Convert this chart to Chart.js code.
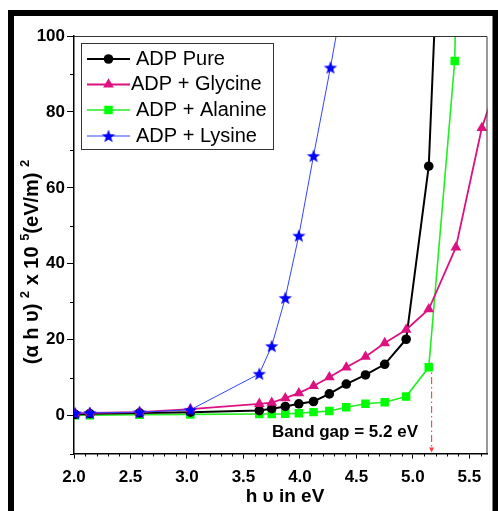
<!DOCTYPE html>
<html>
<head>
<meta charset="utf-8">
<script src="https://cdn.jsdelivr.net/npm/chart.js@4.4.1/dist/chart.umd.min.js"></script>
<style>
html, body { margin: 0; padding: 0; background: #fff; }
</style>
</head>
<body>
<canvas id="myChart" width="498" height="511"></canvas>
<script>
// 1 DATA
const seriesNames = ['ADP Pure', 'ADP + Glycine', 'ADP + Alanine', 'ADP + Lysine'];

const pureX = [2.01, 2.14, 2.58, 3.03, 3.64, 3.75, 3.87, 3.99, 4.12, 4.26, 4.41, 4.58, 4.75, 4.94, 5.14, 5.23];
const pureY = [0.3, 0.5, 0.7, 0.9, 1.3, 1.8, 2.4, 3.1, 3.7, 5.7, 8.3, 10.7, 13.5, 20.1, 65.7, 130];

const glyX = [2.01, 2.14, 2.58, 3.03, 3.64, 3.75, 3.87, 3.99, 4.12, 4.26, 4.41, 4.58, 4.75, 4.94, 5.14, 5.38, 5.61, 5.75];
const glyY = [0.5, 0.7, 0.9, 1.7, 3.1, 3.4, 4.6, 5.9, 7.8, 10.1, 12.7, 15.5, 19.1, 22.6, 28.0, 44.3, 75.8, 88];

const alaX = [2.01, 2.14, 2.58, 3.03, 3.64, 3.75, 3.87, 3.99, 4.12, 4.26, 4.41, 4.58, 4.75, 4.94, 5.14, 5.37, 5.39];
const alaY = [0.1, 0.1, 0.2, 0.3, 0.4, 0.4, 0.45, 0.6, 0.9, 1.2, 2.2, 3.1, 3.5, 5.0, 12.7, 93.4, 125];

const lysX = [2.01, 2.14, 2.58, 3.03, 3.64, 3.75, 3.87, 3.99, 4.12, 4.27, 4.41];
const lysY = [0.6, 0.7, 0.9, 1.5, 11, 18.3, 31, 47.4, 68.4, 91.7, 115];

const xTicks = [2.0, 2.5, 3.0, 3.5, 4.0, 4.5, 5.0, 5.5];
const yTicks = [0, 20, 40, 60, 80, 100];

const bandGapX = 5.165;
const bandGapText = 'Band gap = 5.2 eV';
const xTitle = 'h \u03c5 in eV';

const FONT = '"Liberation Sans", Arial, sans-serif';

// 2 HELPERS
function pts(xs, ys) {
    return xs.map((x, i) => ({x: x, y: ys[i]}));
}

function makeStar(r, color) {
    const c = document.createElement('canvas');
    const s = Math.ceil(r * 2 + 2);
    c.width = s; c.height = s;
    const g = c.getContext('2d');
    g.fillStyle = color;
    g.beginPath();
    for (let i = 0; i < 10; i++) {
        const a = -Math.PI / 2 + i * Math.PI / 5;
        const rr = i % 2 ? r * 0.42 : r;
        g.lineTo(s / 2 + rr * Math.cos(a), s / 2 + 0.6 + rr * Math.sin(a));
    }
    g.closePath();
    g.fill();
    return c;
}
const starImg = makeStar(7, '#0000ff');

function drawMarker(c, style, x, y, r, color) {
    c.save();
    c.fillStyle = color;
    c.beginPath();
    if (style === 'circle') {
        c.arc(x, y, r, 0, Math.PI * 2);
    } else if (style === 'triangle') {
        c.moveTo(x, y - r);
        c.lineTo(x + r * 0.866, y + r * 0.5);
        c.lineTo(x - r * 0.866, y + r * 0.5);
        c.closePath();
    } else if (style === 'rect') {
        const h = r * Math.SQRT1_2;
        c.rect(x - h, y - h, 2 * h, 2 * h);
    }
    c.fill();
    if (style === 'star') c.drawImage(starImg, x - starImg.width / 2, y - starImg.height / 2);
    c.restore();
}

// 3 EXTRA DRAWING (frame, minor ticks, legend, notes)
const extras = {
    id: 'extras',
    beforeDraw(chart) {
        const c = chart.ctx;
        c.save();
        c.fillStyle = '#000';
        c.fillRect(8, 10, 490, 6);
        c.fillRect(8, 10, 6, 501);
        c.fillRect(492.5, 10, 6, 501);
        c.restore();
    },
    beforeDatasetsDraw(chart) {
        const c = chart.ctx;
        const xs = chart.scales.x, ys = chart.scales.y;
        const px = xs.getPixelForValue(bandGapX);
        c.save();
        c.strokeStyle = 'rgba(255,40,40,0.85)';
        c.lineWidth = 1.2;
        c.setLineDash([7, 3, 1.5, 3]);
        c.beginPath();
        c.moveTo(px, ys.getPixelForValue(14));
        c.lineTo(px, ys.bottom - 5);
        c.stroke();
        c.setLineDash([]);
        c.fillStyle = 'rgba(255,40,40,0.9)';
        c.beginPath();
        c.moveTo(px - 2.5, ys.bottom - 6);
        c.lineTo(px + 2.5, ys.bottom - 6);
        c.lineTo(px, ys.bottom - 1);
        c.closePath();
        c.fill();
        c.restore();
    },
    afterDraw(chart) {
        const c = chart.ctx;
        const a = chart.chartArea;
        const xs = chart.scales.x, ys = chart.scales.y;
        c.save();
        // box top & right
        c.strokeStyle = '#333';
        c.lineWidth = 1;
        c.beginPath();
        c.moveTo(a.left, a.top + 0.5);
        c.lineTo(a.right - 0.5, a.top + 0.5);
        c.lineTo(a.right - 0.5, a.bottom);
        c.stroke();
        // minor ticks
        c.strokeStyle = '#000';
        c.beginPath();
        for (let i = 21; i <= 56; i++) {
            if (i % 5 === 0) continue;
            const p = Math.round(xs.getPixelForValue(i / 10)) + 0.5;
            c.moveTo(p, a.bottom);
            c.lineTo(p, a.bottom + 3);
        }
        for (let v = -10; v <= 90; v += 20) {
            const p = Math.round(ys.getPixelForValue(v)) + 0.5;
            c.moveTo(a.left - 4, p);
            c.lineTo(a.left, p);
        }
        c.stroke();

        // band gap text
        c.fillStyle = '#000';
        c.font = 'bold 17px ' + FONT;
        c.textAlign = 'center';
        c.textBaseline = 'middle';
        c.fillText(bandGapText, 345, 432);

        // x title
        c.font = 'bold 19px ' + FONT;
        c.fillText(xTitle, 285, 497);

        // y title with superscripts
        const parts = [
            {t: '(\u03b1 h \u03c5) '}, {t: '2', sup: true}, {t: ' x 10 '}, {t: '5', sup: true},
            {t: '(eV/m) '}, {t: '2', sup: true}
        ];
        const size = 20;
        c.textAlign = 'left';
        c.textBaseline = 'alphabetic';
        let total = 0;
        parts.forEach(p => {
            c.font = 'bold ' + (p.sup ? 13 : size) + 'px ' + FONT;
            p.w = c.measureText(p.t).width;
            total += p.w;
        });
        c.translate(31, 262);
        c.rotate(-Math.PI / 2);
        let x = -total / 2;
        parts.forEach(p => {
            c.font = 'bold ' + (p.sup ? 13 : size) + 'px ' + FONT;
            c.fillText(p.t, x, p.sup ? -2 : size * 0.36);
            x += p.w;
        });
        c.setTransform(1, 0, 0, 1, 0, 0);

        // legend
        c.strokeStyle = '#333';
        c.lineWidth = 1;
        c.strokeRect(81.5, 43.5, 192, 106);
        c.font = '20px ' + FONT;
        c.textBaseline = 'middle';
        const rows = [59, 84.5, 110, 136];
        chart.data.datasets.forEach((d, i) => {
            const y = rows[i];
            c.strokeStyle = d.borderColor;
            c.lineWidth = d.borderWidth;
            c.beginPath();
            c.moveTo(87, y);
            c.lineTo(130, y);
            c.stroke();
            drawMarker(c, d.pointStyle === starImg ? 'star' : d.pointStyle, 108.5, y, d.pointRadius, d.backgroundColor);
            c.fillStyle = '#000';
            c.fillText(d.label, i === 1 ? 131 : 136, y);
        });
        c.restore();
    }
};

// 4 CHART
const ctx = document.querySelector('#myChart').getContext('2d');
const tickFont = {family: FONT, size: 17, weight: 'bold'};

const myChart = new Chart(ctx, {
    type: 'line',
    data: {
        datasets: [
            {label: seriesNames[0], data: pts(pureX, pureY), borderColor: '#000', backgroundColor: '#000',
             borderWidth: 2, pointStyle: 'circle', pointRadius: 4.8, pointBorderWidth: 0, order: 2},
            {label: seriesNames[1], data: pts(glyX, glyY), borderColor: '#dd1180', backgroundColor: '#dd1180',
             borderWidth: 1.8, pointStyle: 'triangle', pointRadius: 6.2, pointBorderWidth: 0, order: 1},
            {label: seriesNames[2], data: pts(alaX, alaY), borderColor: '#22ee22', backgroundColor: '#00ff00',
             borderWidth: 1.6, pointStyle: 'rect', pointRadius: 6, pointBorderWidth: 0, order: 3},
            {label: seriesNames[3], data: pts(lysX, lysY), borderColor: '#3344ff', backgroundColor: '#0000ff',
             borderWidth: 1, pointStyle: starImg, pointRadius: 7, pointBorderWidth: 0, order: 0}
        ]
    },
    options: {
        responsive: false,
        animation: false,
        events: [],
        elements: {line: {tension: 0}},
        layout: {padding: {top: 36, right: 10.5, left: 0, bottom: 0}},
        plugins: {legend: {display: false}, tooltip: {enabled: false}},
        scales: {
            x: {
                type: 'linear', min: 2, max: 5.66,
                afterBuildTicks: s => { s.ticks = xTicks.map(v => ({value: v})); },
                afterFit: s => { s.height = 57.5; },
                ticks: {callback: v => v.toFixed(1), font: tickFont, color: '#000', padding: 9, maxRotation: 0, autoSkip: false},
                grid: {drawOnChartArea: false, tickLength: 5, color: '#000'},
                border: {color: '#000', width: 1.5}
            },
            y: {
                type: 'linear', min: -10, max: 100,
                afterBuildTicks: s => { s.ticks = yTicks.map(v => ({value: v})); },
                afterFit: s => { s.width = 74; },
                ticks: {font: tickFont, color: '#000', padding: 2},
                grid: {drawOnChartArea: false, tickLength: 7, color: '#000'},
                border: {color: '#000', width: 1.5}
            }
        }
    },
    plugins: [extras]
});
</script>
</body>
</html>
